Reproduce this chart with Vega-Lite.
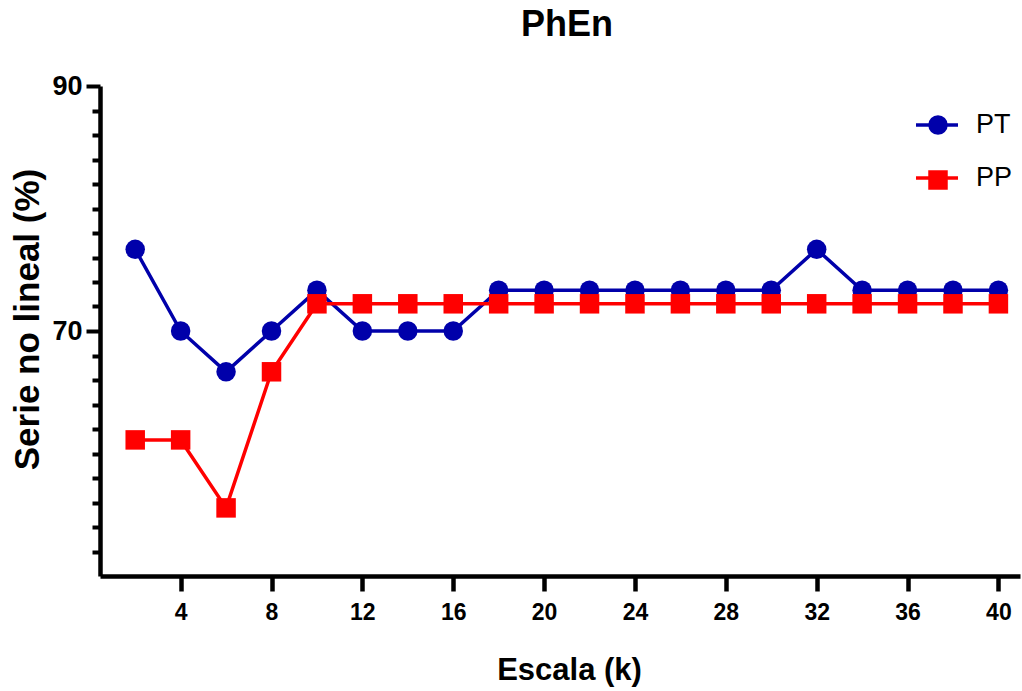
{
  "$schema": "https://vega.github.io/schema/vega-lite/v6.json",
  "width": 920,
  "height": 490,
  "autosize": "none",
  "padding": {"left": 100, "top": 86, "right": 2, "bottom": 115},
  "background": "white",
  "title": {"text": "PhEn", "fontSize": 36, "font": "Liberation Sans", "fontWeight": "bold", "color": "black", "offset": 28, "anchor": "middle", "dx": 7},
  "config": {"view": {"stroke": null}, "font": "Liberation Sans"},
  "data": {"values": [
    {"k": 2, "v": 76.67, "serie": "PT", "grupo": "PT"},
    {"k": 4, "v": 70, "serie": "PT", "grupo": "PT"},
    {"k": 6, "v": 66.67, "serie": "PT", "grupo": "PT"},
    {"k": 8, "v": 70, "serie": "PT", "grupo": "PT"},
    {"k": 10, "v": 73.33, "serie": "PT", "grupo": "PT"},
    {"k": 12, "v": 70, "serie": "PT", "grupo": "PT"},
    {"k": 14, "v": 70, "serie": "PT", "grupo": "PT"},
    {"k": 16, "v": 70, "serie": "PT", "grupo": "PT"},
    {"k": 18, "v": 73.33, "serie": "PT", "grupo": "PT"},
    {"k": 20, "v": 73.33, "serie": "PT", "grupo": "PT"},
    {"k": 22, "v": 73.33, "serie": "PT", "grupo": "PT"},
    {"k": 24, "v": 73.33, "serie": "PT", "grupo": "PT"},
    {"k": 26, "v": 73.33, "serie": "PT", "grupo": "PT"},
    {"k": 28, "v": 73.33, "serie": "PT", "grupo": "PT"},
    {"k": 30, "v": 73.33, "serie": "PT", "grupo": "PT"},
    {"k": 32, "v": 76.67, "serie": "PT", "grupo": "PT"},
    {"k": 34, "v": 73.33, "serie": "PT", "grupo": "PT"},
    {"k": 36, "v": 73.33, "serie": "PT", "grupo": "PT"},
    {"k": 38, "v": 73.33, "serie": "PT", "grupo": "PT"},
    {"k": 40, "v": 73.33, "serie": "PT", "grupo": "PT"},
    {"k": 2, "v": 61.11, "serie": "PP", "grupo": "PP"},
    {"k": 4, "v": 61.11, "serie": "PP", "grupo": "PP"},
    {"k": 6, "v": 55.56, "serie": "PP", "grupo": "PP"},
    {"k": 8, "v": 66.67, "serie": "PP", "grupo": "PP"},
    {"k": 10, "v": 72.22, "serie": "PP", "grupo": "PP"},
    {"k": 12, "v": 72.22, "serie": "PP", "grupo": "PP"},
    {"k": 14, "v": 72.22, "serie": "PP", "grupo": "PP"},
    {"k": 16, "v": 72.22, "serie": "PP", "grupo": "PP"},
    {"k": 18, "v": 72.22, "serie": "PP", "grupo": "PP"},
    {"k": 20, "v": 72.22, "serie": "PP", "grupo": "PP"},
    {"k": 22, "v": 72.22, "serie": "PP", "grupo": "PP"},
    {"k": 24, "v": 72.22, "serie": "PP", "grupo": "PP"},
    {"k": 26, "v": 72.22, "serie": "PP", "grupo": "PP"},
    {"k": 28, "v": 72.22, "serie": "PP", "grupo": "PP"},
    {"k": 30, "v": 72.22, "serie": "PP", "grupo": "PP"},
    {"k": 32, "v": 72.22, "serie": "PP", "grupo": "PP"},
    {"k": 34, "v": 72.22, "serie": "PP", "grupo": "PP"},
    {"k": 36, "v": 72.22, "serie": "PP", "grupo": "PP"},
    {"k": 38, "v": 72.22, "serie": "PP", "grupo": "PP"},
    {"k": 40, "v": 72.22, "serie": "PP", "grupo": "PP"}
  ]},
  "encoding": {
    "x": {"field": "k", "type": "quantitative",
      "scale": {"domain": [0.45, 40.95], "nice": false, "zero": false},
      "axis": {"title": "Escala (k)", "values": [4, 8, 12, 16, 20, 24, 28, 32, 36, 40],
        "grid": false, "domainColor": "black", "domainWidth": 4.5, "tickColor": "black", "tickWidth": 4.5, "tickSize": 15,
        "labelFont": "Liberation Sans", "labelFontSize": 23, "labelFontWeight": "bold", "labelColor": "black", "labelPadding": 10,
        "titleFont": "Liberation Sans", "titleFontSize": 31, "titleFontWeight": "bold", "titleColor": "black", "titlePadding": 31, "titleX": 469}},
    "y": {"field": "v", "type": "quantitative",
      "scale": {"domain": [50, 90], "nice": false, "zero": false},
      "axis": {"title": "Serie no lineal (%)",
        "values": [52, 54, 56, 58, 60, 62, 64, 66, 68, 70, 72, 74, 76, 78, 80, 82, 84, 86, 88, 90],
        "labelExpr": "datum.value == 70 || datum.value == 90 ? datum.label : ''",
        "grid": false, "domainColor": "black", "domainWidth": 4.5, "tickColor": "black", "tickWidth": 4,
        "tickSize": {"condition": {"test": "datum.value == 70 || datum.value == 90", "value": 14}, "value": 8},
        "labelFont": "Liberation Sans", "labelFontSize": 27, "labelFontWeight": "bold", "labelColor": "black", "labelPadding": 4,
        "titleFont": "Liberation Sans", "titleFontSize": 35, "titleFontWeight": "bold", "titleColor": "black", "titlePadding": 6, "titleY": 233}}
  },
  "layer": [
    {"mark": {"type": "line", "strokeWidth": 3.5},
     "encoding": {
       "stroke": {"field": "serie", "type": "nominal", "sort": ["PT", "PP"],
         "scale": {"range": ["#0000AA", "#FF0000"]},
         "legend": {"title": null, "orient": "none", "legendX": 814, "legendY": 16, "padding": 0,
           "symbolType": "stroke", "symbolSize": 1764, "symbolStrokeWidth": 3.5,
           "labelFont": "Liberation Sans", "labelFontSize": 27, "labelColor": "black", "labelOffset": 16, "rowPadding": 17}}
     }},
    {"mark": {"type": "point", "filled": true, "opacity": 1, "size": 380},
     "encoding": {
       "fill": {"field": "grupo", "type": "nominal",
         "scale": {"domain": ["PT", "PP"], "range": ["#0000AA", "#FF0000"]},
         "legend": {"title": null, "orient": "none", "legendX": 825, "legendY": 26, "padding": 0,
           "symbolSize": 380, "symbolStrokeWidth": 0,
           "labelExpr": "''", "labelFontSize": 26, "rowPadding": 29}},
       "shape": {"field": "grupo", "type": "nominal",
         "scale": {"domain": ["PT", "PP"], "range": ["circle", "square"]},
         "legend": {"title": null, "orient": "none", "legendX": 825, "legendY": 26, "padding": 0,
           "symbolSize": 380, "symbolStrokeWidth": 0,
           "labelExpr": "''", "labelFontSize": 26, "rowPadding": 29}}
     }}
  ]
}
